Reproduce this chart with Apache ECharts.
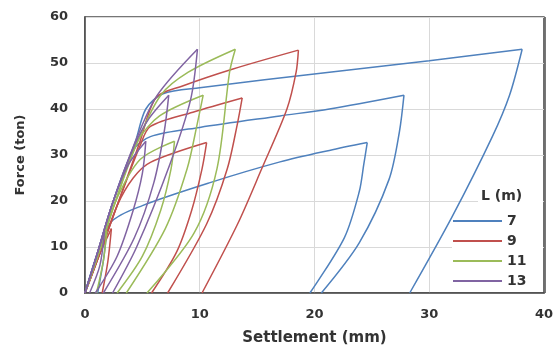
<!DOCTYPE html>
<html>
<head>
<meta charset="utf-8">
<script src="https://cdn.jsdelivr.net/npm/echarts@6/dist/echarts.min.js"></script>
<style>
  html, body { margin: 0; padding: 0; background: #fff; }
  #chart { width: 556px; height: 354px; }
</style>
</head>
<body>
<div id="chart"></div>
<script>
// Pile length groups, one colour each
const lengths = ['7', '9', '11', '13'];
const colors = ['#4F81BD', '#C0504D', '#9BBB59', '#8064A2'];

// Axis ticks
const xTicks = [0, 10, 20, 30, 40];
const yTicks = [0, 10, 20, 30, 40, 50, 60];

// Load cycles per pile length: [settlement (mm), force (ton)]
// each cycle loads from zero up to its peak, then unloads to the residual settlement
const L7 = [
  [[0, 0], [1.0, 8], [1.9, 13.5], [1.6, 7], [1.1, 0]],
  [[0, 0], [1.0, 8], [2.3, 15.5], [5, 19], [10.9, 24], [17, 28.5], [21.3, 31], [24.6, 32.7],
   [24.3, 28], [23.9, 22], [22.6, 12], [19.6, 0]],
  [[0, 0], [1.0, 8], [2.4, 19.5], [4.2, 31], [5.7, 34], [10, 36], [17, 38.5], [21.3, 40], [27.8, 43],
   [27.4, 35], [26.5, 24.7], [23.9, 10.9], [20.6, 0]],
  [[0, 0], [1.0, 8], [2.4, 19.5], [4.4, 33], [5.3, 40], [6.8, 43.3], [10, 44.6], [21.3, 48], [30, 50.5], [38.1, 53],
   [37, 43], [35.5, 34], [32, 16.6], [28.3, 0]]
];
const L9 = [
  [[0, 0], [1.2, 8], [2.3, 14], [2.0, 7], [1.5, 0]],
  [[0, 0], [1.2, 8], [2.8, 19], [4.2, 25], [5.7, 28.4], [10.6, 32.7],
   [10.2, 27], [9.3, 18], [8.0, 9], [5.8, 0]],
  [[0, 0], [1.2, 8], [2.8, 19], [4.8, 32], [5.7, 36.2], [9.4, 39.3], [13.7, 42.4],
   [13.3, 37], [12.4, 27], [10.6, 15], [7.2, 0]],
  [[0, 0], [1.2, 8], [2.8, 19], [4.8, 33], [6.2, 42.5], [8.5, 45], [12.9, 48.7], [18.6, 52.8],
   [18.4, 48], [17.6, 40], [15.4, 27], [13.3, 15], [10.2, 0]]
];
const L11 = [
  [[0, 0], [1.1, 8], [1.9, 13.5], [1.6, 7], [1.0, 0]],
  [[0, 0], [1.1, 8], [2.6, 19.5], [4.8, 29], [7.8, 33],
   [7.5, 27], [6.6, 18], [5.0, 8], [2.8, 0]],
  [[0, 0], [1.1, 8], [2.6, 19.5], [4.6, 33], [6.5, 38.5], [10.3, 43],
   [9.8, 37], [8.9, 27], [7.0, 14], [3.6, 0]],
  [[0, 0], [1.1, 8], [2.6, 19.5], [4.6, 33], [6.6, 43], [9, 48], [13.1, 53],
   [12.6, 48], [11.5, 27], [9.5, 13], [5.4, 0]]
];
const L13 = [
  [[0, 0], [1.0, 8], [1.7, 13.5], [1.3, 6], [0.4, 0]],
  [[0, 0], [1.0, 8], [2.4, 19.5], [3.8, 28], [5.3, 33],
   [5.0, 26], [4.2, 18], [2.8, 8], [0.9, 0]],
  [[0, 0], [1.0, 8], [2.4, 19.5], [4.3, 32], [5.6, 38], [7.3, 43],
   [6.9, 35], [6.0, 24], [4.3, 12], [1.6, 0]],
  [[0, 0], [1.0, 8], [2.4, 19.5], [4.4, 33], [6.3, 43], [9.8, 53],
   [9.2, 42], [7.4, 28], [4.5, 10], [2.4, 0]]
];

const groups = [L7, L9, L11, L13];
const FONT = 'DejaVu Sans';

// Split a cycle at its peak force so the loading and unloading branches
// are smoothed separately and the peak stays a sharp corner.
function splitAtPeak(path) {
  let k = 0;
  path.forEach(function (p, i) { if (p[1] > path[k][1]) k = i; });
  return [path.slice(0, k + 1), path.slice(k)];
}

const series = [];
groups.forEach(function (cycles, gi) {
  cycles.forEach(function (path) {
    splitAtPeak(path).forEach(function (branch) {
      series.push({
        name: lengths[gi],
        type: 'line',
        data: branch,
        showSymbol: false,
        symbol: 'none',
        smooth: 0.3,
        silent: true,
        z: 3 + gi,
        lineStyle: { color: colors[gi], width: 1.5 },
        itemStyle: { color: colors[gi] }
      });
    });
  });
});

const chart = echarts.init(document.getElementById('chart'), null, { renderer: 'canvas' });
chart.setOption({
  animation: false,
  backgroundColor: '#fff',
  grid: {
    left: 85, right: 11, top: 17, bottom: 61,
    show: true, borderColor: '#4a4a4a', borderWidth: 1.5, backgroundColor: 'transparent'
  },
  xAxis: {
    type: 'value',
    min: xTicks[0], max: xTicks[xTicks.length - 1], interval: 10,
    name: 'Settlement (mm)', nameLocation: 'middle', nameGap: 38,
    nameTextStyle: { fontFamily: FONT, fontWeight: 'bold', fontSize: 15, color: '#333' },
    axisLine: { show: true, lineStyle: { color: '#4a4a4a', width: 1.5 } },
    axisTick: { show: false },
    axisLabel: { fontFamily: FONT, fontWeight: 'bold', fontSize: 13, color: '#333', margin: 15 },
    splitLine: { show: true, lineStyle: { color: '#d9d9d9', width: 1 } }
  },
  yAxis: {
    type: 'value',
    min: yTicks[0], max: yTicks[yTicks.length - 1], interval: 10,
    name: 'Force (ton)', nameLocation: 'middle', nameGap: 58,
    nameTextStyle: { fontFamily: FONT, fontWeight: 'bold', fontSize: 13, color: '#333' },
    axisLine: { show: true, lineStyle: { color: '#4a4a4a', width: 1.5 } },
    axisTick: { show: false },
    axisLabel: { fontFamily: FONT, fontWeight: 'bold', fontSize: 13, color: '#333', margin: 17 },
    splitLine: { show: true, lineStyle: { color: '#d9d9d9', width: 1 } }
  },
  graphic: [
    { type: 'rect', z: 1, shape: { x: 478, y: 188, width: 65, height: 20 }, style: { fill: '#fff' } },
    { type: 'rect', z: 1, shape: { x: 452, y: 206, width: 91, height: 85 }, style: { fill: '#fff' } },
    // right-hand frame edge redrawn over the legend backdrop
    { type: 'line', z: 2, shape: { x1: 545, y1: 17, x2: 545, y2: 293 }, style: { stroke: '#4a4a4a', lineWidth: 1.5 } },
    {
      type: 'text', z: 10, left: 481, top: 189,
      style: { text: 'L (m)', font: 'bold 14px "DejaVu Sans"', fill: '#333' }
    }
  ],
  legend: {
    data: lengths,
    orient: 'vertical',
    left: 453, top: 212,
    icon: 'rect',
    itemWidth: 49, itemHeight: 2,
    itemGap: 2,
    padding: 0,
    selectedMode: false,
    textStyle: { fontFamily: FONT, fontWeight: 'bold', fontSize: 14, color: '#333', lineHeight: 18, padding: [0, 0, 0, 0] }
  },
  series: series
});
</script>
</body>
</html>
